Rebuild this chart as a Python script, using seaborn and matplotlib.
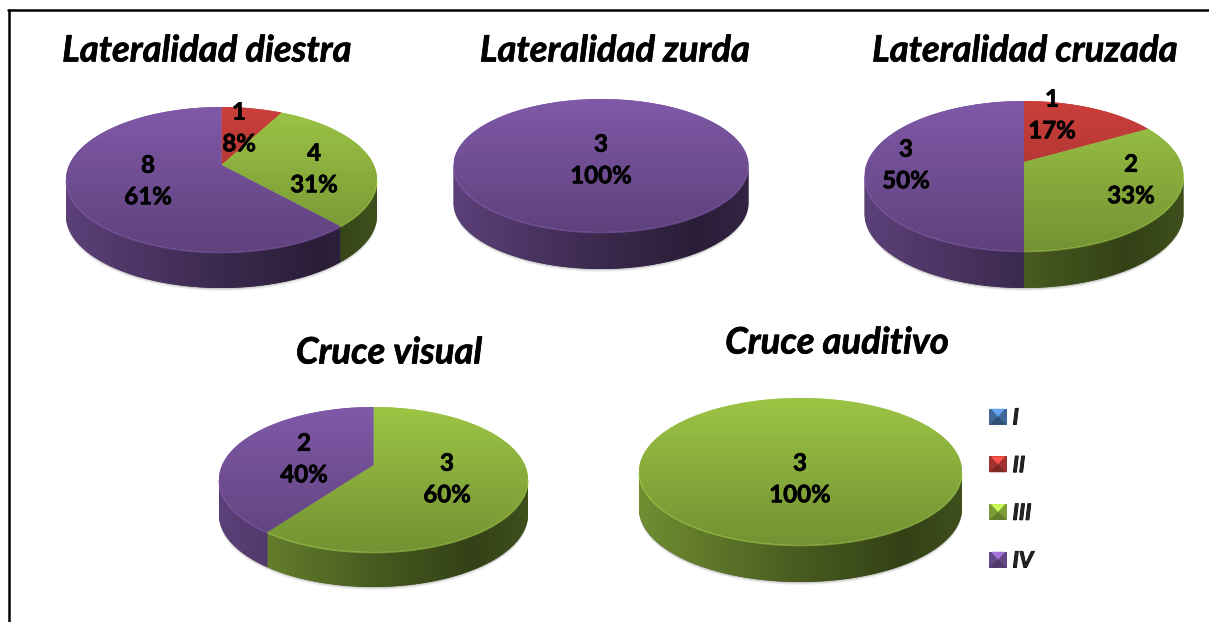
import numpy as np
import seaborn as sns
import matplotlib
matplotlib.use("Agg")
import matplotlib.pyplot as plt
import matplotlib.patheffects as pe
from matplotlib.lines import Line2D
from matplotlib.patches import Patch, Polygon
from matplotlib.path import Path
from matplotlib.legend_handler import HandlerBase

# ---- data ----
series_names = ["I", "II", "III", "IV"]
diestra_counts = [0, 1, 4, 8]
diestra_labels = [None, "1\n8%", "4\n31%", "8\n61%"]
zurda_counts = [0, 0, 0, 3]
zurda_labels = [None, None, None, "3\n100%"]
cruzada_counts = [0, 1, 2, 3]
cruzada_labels = [None, "1\n17%", "2\n33%", "3\n50%"]
visual_counts = [0, 0, 3, 2]
visual_labels = [None, None, "3\n60%", "2\n40%"]
auditivo_counts = [0, 0, 3, 0]
auditivo_labels = [None, None, "3\n100%", None]
colors = ["#4F81BD", "#CB3F3B", "#9CC545", "#8059A8"]

W, H = 1209, 622
sns.set_theme(style="white")
plt.rcParams["font.family"] = ["Lato", "DejaVu Sans"]
fig = plt.figure(figsize=(W / 100, H / 100), dpi=100, facecolor="white")

# layout, in reference pixels
panels = [
    dict(title="Lateralidad diestra", counts=diestra_counts, labels=diestra_labels,
         rect=(12, 14, 425, 300), cx=221.5, rx=155.5, top=107, apex=165, front=252, bottom=288,
         title_xy=(207, 51),
         label_xy=[None, (239, 128), (314, 169), (148, 181)]),
    dict(title="Lateralidad zurda", counts=zurda_counts, labels=zurda_labels,
         rect=(430, 14, 840, 300), cx=601, rx=147.5, top=99, apex=152, front=232, bottom=269,
         title_xy=(615, 51),
         label_xy=[None, None, None, (601, 160)]),
    dict(title="Lateralidad cruzada", counts=cruzada_counts, labels=cruzada_labels,
         rect=(845, 14, 1205, 300), cx=1024, rx=159.5, top=101, apex=162, front=251, bottom=288,
         title_xy=(1025, 51),
         label_xy=[None, (1052, 115), (1131, 180), (906, 165)]),
    dict(title="Cruce visual", counts=visual_counts, labels=visual_labels,
         rect=(180, 325, 580, 610), cx=373.5, rx=154.5, top=407, apex=465, front=552, bottom=587,
         title_xy=(389, 353),
         label_xy=[None, None, (447, 479), (304, 459)]),
    dict(title="Cruce auditivo", counts=auditivo_counts, labels=auditivo_labels,
         rect=(600, 318, 975, 610), cx=800.5, rx=161.5, top=398, apex=457, front=545, bottom=582,
         title_xy=(837, 343),
         label_xy=[None, None, (800, 479), None]),
]
FS_TITLE, FS_LABEL, FS_LEG = 26.2, 17.3, 16.0
heavy = [pe.withStroke(linewidth=0.5, foreground="black")]


def shade(col, f):
    return np.clip(np.array(matplotlib.colors.to_rgb(col)) * f, 0, 1)


def side_factor(t):
    return np.interp(t, [0, 0.5, 0.82, 1.0], [0.72, 0.46, 0.33, 0.40])


def draw_pie(p):
    x0, y0, x1, y1 = p["rect"]
    ax = fig.add_axes([x0 / W, 1 - y1 / H, (x1 - x0) / W, (y1 - y0) / H])
    wedges, _ = ax.pie(p["counts"], colors=colors, startangle=90, counterclock=False, radius=1)
    ax.set_aspect("auto")

    cx, rx, apex = p["cx"], p["rx"], p["apex"]
    t, f = apex - p["top"], p["front"] - apex
    depth = p["bottom"] - p["front"]
    b = (f - t) / (f + t)
    a = 2 * f * t / (f + t)
    c = rx * np.sqrt(1 - b * b)

    def project(xs, ys):
        d = 1 + b * ys
        return cx + c * xs / d, apex - a * ys / d

    alpha = np.degrees(np.arcsin(b))
    visible = np.linspace(180 + alpha, 360 - alpha, 361)
    left, right = cx - rx, cx + rx

    # soft shadow around the body
    vis = np.radians(visible)
    su, sv = project(np.cos(vis), np.sin(vis))
    for grow, al in [(3, 0.05), (2, 0.07), (1, 0.10)]:
        pts = np.column_stack([np.r_[su[0] - 0, su + 0], np.r_[sv[0], sv + depth + grow]])
        ax.add_patch(Polygon(pts, closed=True, fc="#000000", ec="none", alpha=al, zorder=0.5))

    for w, col in zip(wedges, colors):
        th1, th2 = w.theta1, w.theta2
        span = th2 - th1
        if span <= 0:
            w.set_visible(False)
            continue
        # top face
        th = np.radians(np.linspace(th1, th2, 361))
        ux, vy = project(np.cos(th), np.sin(th))
        ax_, ay_ = project(np.array([0.0]), np.array([0.0]))
        verts = np.column_stack([np.r_[ax_, ux, ax_], np.r_[ay_, vy, ay_]])
        w._path = Path(verts, closed=True)
        w.set_zorder(2)
        w.set_edgecolor("none")

        fac = np.linspace(1.0, 0.74, 128)
        img = np.stack([shade(col, q) for q in fac])[:, None, :]
        im = ax.imshow(img, extent=(left, right, p["front"], p["top"]), aspect="auto",
                       zorder=3, interpolation="bilinear")
        im.set_clip_path(w)

        # side wall of the slice, on the part of the rim that faces the viewer
        grid = visible[((visible - th1) % 360) <= span]
        extra = [q % 360 for q in (th1, th2)
                 if visible[0] <= q % 360 <= visible[-1] and span < 360]
        grid = np.unique(np.r_[grid, extra])
        if grid.size < 2:
            continue
        rad = np.radians(grid)
        su2, sv2 = project(np.cos(rad), np.sin(rad))
        side = np.column_stack([np.r_[su2, su2[::-1]], np.r_[sv2, sv2[::-1] + depth]])
        poly = Polygon(side, closed=True, fc=shade(col, 0.45), ec="none", zorder=1)
        ax.add_patch(poly)
        ts = np.linspace(0, 1, 256)
        img2 = np.stack([shade(col, q) for q in side_factor(ts)])[None, :, :]
        im2 = ax.imshow(img2, extent=(left, right, p["bottom"], p["top"]), aspect="auto",
                        zorder=1.5, interpolation="bilinear")
        im2.set_clip_path(poly)
        # light bevel on the front rim
        ax.plot(su2, sv2 + 0.6, color=shade(col, 1.05), lw=1.0, alpha=0.6, zorder=4,
                solid_capstyle="butt")

    for txt, xy in zip(p["labels"], p["label_xy"]):
        if txt:
            ax.text(xy[0], xy[1], txt, ha="center", va="center", fontsize=FS_LABEL,
                    fontweight="bold", color="black", linespacing=1.45, zorder=6,
                    path_effects=heavy)

    ax.set_xlim(x0, x1)
    ax.set_ylim(y1, y0)
    ax.axis("off")
    ax.set_title(p["title"], x=(p["title_xy"][0] - x0) / (x1 - x0),
                 y=(y1 - p["title_xy"][1]) / (y1 - y0), va="center", ha="center",
                 fontsize=FS_TITLE, fontweight="bold", fontstyle="italic", color="black", pad=0,
                 path_effects=heavy)


for panel in panels:
    draw_pie(panel)


class BevelHandler(HandlerBase):
    def create_artists(self, legend, orig, xd, yd, width, height, fontsize, trans):
        col = np.array(orig.get_facecolor()[:3])
        x, y, w, h = -xd, -yd, width, height
        cxm, cym = x + w / 2, y + h / 2
        shapes = [
            ([(x, y), (x + w, y), (x + w, y + h), (x, y + h)], col * 0.80),
            ([(x + 1, y + h), (x + w - 1, y + h), (cxm, cym)], np.clip(col * 1.28, 0, 1)),
            ([(x, y), (x + w, y), (cxm, cym)], col * 0.62),
        ]
        return [Polygon(s, closed=True, fc=cc, ec="none", transform=trans) for s, cc in shapes]


handles = [Patch(facecolor=c) for c in colors]
leg = fig.legend(handles, series_names, loc="upper left", bbox_to_anchor=(985 / W, 1 - 403 / H),
                 frameon=False, ncol=1, handlelength=0.77, handleheight=0.72,
                 handletextpad=0.27, labelspacing=1.2, borderpad=0.2, borderaxespad=0,
                 handler_map={Patch: BevelHandler()},
                 prop=dict(family="Lato", weight="bold", style="italic", size=FS_LEG))
for txt in leg.get_texts():
    txt.set_path_effects([pe.withStroke(linewidth=0.7, foreground="black")])

# outer frame, open at right and bottom as in the source
fig.add_artist(Line2D([8.5 / W, 8.5 / W], [0, 1 - 10 / H], color="black", lw=1.8))
fig.add_artist(Line2D([7.5 / W, 1], [1 - 10 / H, 1 - 10 / H], color="black", lw=1.8))

fig.savefig("out.png", dpi=100, facecolor="white")
